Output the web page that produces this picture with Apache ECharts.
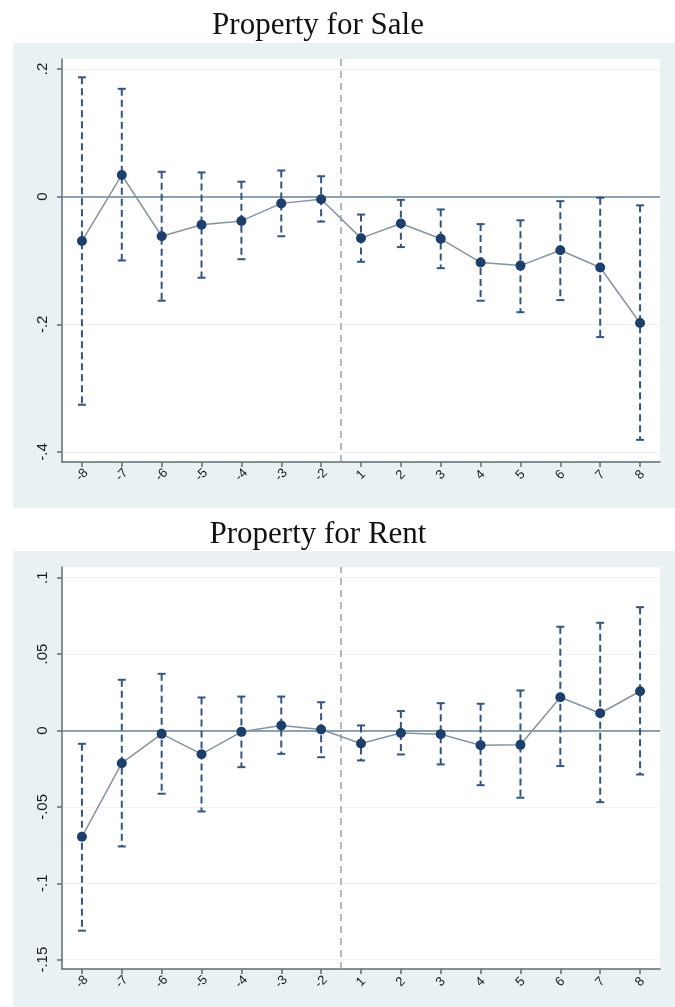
<!DOCTYPE html>
<html>
<head>
<meta charset="utf-8">
<script src="https://cdn.jsdelivr.net/npm/echarts@6/dist/echarts.min.js"></script>
<style>
  html, body { margin: 0; padding: 0; background: #ffffff; }
  #chart { width: 675px; height: 1007px; }
</style>
</head>
<body>
<div id="chart"></div>
<script>
// Event-time periods (period -1 is the omitted reference period)
const periods = ['-8', '-7', '-6', '-5', '-4', '-3', '-2', '1', '2', '3', '4', '5', '6', '7', '8'];

// Property for Sale: point estimates and confidence bounds
const saleCoef = [-0.0695, 0.034, -0.062, -0.044, -0.038, -0.0105, -0.004, -0.065, -0.042, -0.066, -0.103, -0.108, -0.084, -0.111, -0.198];
const saleLow  = [-0.326, -0.100, -0.163, -0.127, -0.098, -0.062, -0.039, -0.102, -0.079, -0.112, -0.163, -0.181, -0.162, -0.220, -0.381];
const saleHigh = [0.187, 0.169, 0.039, 0.038, 0.0235, 0.041, 0.032, -0.028, -0.005, -0.020, -0.043, -0.037, -0.007, -0.0016, -0.0136];
const saleTicks = [-0.4, -0.2, 0, 0.2];
const saleTickLabels = ['-.4', '-.2', '0', '.2'];

// Property for Rent: point estimates and confidence bounds
const rentCoef = [-0.0696, -0.0214, -0.0022, -0.0155, -0.0009, 0.0033, 0.0007, -0.0085, -0.0017, -0.0024, -0.0096, -0.0094, 0.0218, 0.0113, 0.0257];
const rentLow  = [-0.131, -0.0759, -0.0414, -0.053, -0.024, -0.0153, -0.0175, -0.0196, -0.0157, -0.0222, -0.0358, -0.044, -0.0233, -0.0469, -0.0288];
const rentHigh = [-0.0087, 0.0332, 0.0371, 0.0216, 0.0222, 0.0222, 0.0185, 0.0033, 0.0127, 0.0179, 0.0175, 0.0262, 0.0679, 0.0705, 0.0807];
const rentTicks = [-0.15, -0.1, -0.05, 0, 0.05, 0.1];
const rentTickLabels = ['-.15', '-.1', '-.05', '0', '.05', '.1'];

// Treatment onset sits between the last pre-period and the first post-period
const onsetPosition = 6.5;

const NAVY = '#1d3f6c';
const BAR = '#34557f';
const CONNECT = '#8693a1';
const AXIS = '#5f6b74';
const PANEL_BG = '#e9f1f3';

const chart = echarts.init(document.getElementById('chart'), null, { renderer: 'canvas' });

function capRenderer(params, api) {
  const x = api.value(0);
  const hiPt = api.coord([x, api.value(2)]);
  const loPt = api.coord([x, api.value(1)]);
  const half = 4;
  const solid = { stroke: BAR, lineWidth: 2 };
  return {
    type: 'group',
    children: [
      { type: 'line', shape: { x1: hiPt[0], y1: hiPt[1], x2: loPt[0], y2: loPt[1] },
        style: { stroke: BAR, lineWidth: 2, lineDash: [7, 4] } },
      { type: 'line', shape: { x1: hiPt[0] - half, y1: hiPt[1], x2: hiPt[0] + half, y2: hiPt[1] }, style: solid },
      { type: 'line', shape: { x1: loPt[0] - half, y1: loPt[1], x2: loPt[0] + half, y2: loPt[1] }, style: solid }
    ]
  };
}

function buildPanel(i, title, coef, low, high, ticks, tickLabels, yMin, yMax, layout) {
  const idx = periods.map((_, k) => k);
  return {
    title: {
      text: title, left: layout.titleX, top: layout.titleTop, textAlign: 'center',
      textStyle: { fontFamily: 'Liberation Serif', fontWeight: 'normal', fontSize: 31, color: '#111' }
    },
    grid: {
      left: 62, right: 15, top: layout.gridTop, height: layout.gridHeight,
      show: true, backgroundColor: '#ffffff', borderWidth: 0
    },
    xAxis: {
      gridIndex: i, type: 'value', min: -0.5, max: periods.length - 0.5,
      axisLine: { show: true, onZero: false, lineStyle: { color: AXIS, width: 1.5 } },
      axisTick: { show: true, length: 5, customValues: idx, lineStyle: { color: AXIS, width: 1.5 } },
      axisLabel: {
        customValues: idx, rotate: 45, margin: 13, fontSize: 13, color: '#1a1a1a',
        align: 'center', verticalAlign: 'middle',
        fontFamily: 'Liberation Sans', formatter: v => periods[Math.round(v)]
      },
      splitLine: { show: false }
    },
    yAxis: {
      gridIndex: i, type: 'value', min: yMin, max: yMax,
      axisLine: { show: true, onZero: false, lineStyle: { color: AXIS, width: 1.5 } },
      axisTick: { show: true, length: 5, customValues: ticks, lineStyle: { color: AXIS, width: 1.5 } },
      axisLabel: {
        customValues: ticks, rotate: 90, margin: 12, fontSize: 15, color: '#1a1a1a',
        fontFamily: 'Liberation Sans', formatter: v => tickLabels[ticks.findIndex(t => Math.abs(t - v) < 1e-9)]
      },
      splitLine: { show: true, lineStyle: { color: '#edf2f4', width: 1.2 } }
    },
    series: [
      {
        type: 'custom', xAxisIndex: i, yAxisIndex: i, z: 3,
        renderItem: capRenderer,
        data: idx.map(k => [k, low[k], high[k]]),
        silent: true
      },
      {
        type: 'line', xAxisIndex: i, yAxisIndex: i, z: 4,
        data: idx.map(k => [k, coef[k]]),
        symbol: 'circle', symbolSize: 10,
        itemStyle: { color: NAVY },
        lineStyle: { color: CONNECT, width: 1.5 },
        silent: true,
        markLine: {
          silent: true, symbol: 'none', label: { show: false }, z: 2,
          data: [
            { yAxis: 0, lineStyle: { color: '#6b8594', width: 1.6, type: 'solid' } },
            { xAxis: onsetPosition, lineStyle: { color: '#95a2ad', width: 1.5, type: [7, 5] } }
          ]
        }
      }
    ]
  };
}

const salePanel = buildPanel(0, 'Property for Sale', saleCoef, saleLow, saleHigh, saleTicks, saleTickLabels,
  -0.4157, 0.2157, { titleX: 313, titleTop: 5, gridTop: 59, gridHeight: 403 });
const rentPanel = buildPanel(1, 'Property for Rent', rentCoef, rentLow, rentHigh, rentTicks, rentTickLabels,
  -0.1561, 0.107, { titleX: 313, titleTop: 514, gridTop: 567, gridHeight: 402 });

chart.setOption({
  animation: false,
  backgroundColor: '#ffffff',
  graphic: [
    { type: 'rect', z: -10, shape: { x: 13, y: 43, width: 662, height: 465 }, style: { fill: PANEL_BG } },
    { type: 'rect', z: -10, shape: { x: 13, y: 551, width: 662, height: 456 }, style: { fill: PANEL_BG } }
  ],
  title: [salePanel.title, rentPanel.title],
  grid: [salePanel.grid, rentPanel.grid],
  xAxis: [salePanel.xAxis, rentPanel.xAxis],
  yAxis: [salePanel.yAxis, rentPanel.yAxis],
  series: salePanel.series.concat(rentPanel.series)
});
</script>
</body>
</html>
